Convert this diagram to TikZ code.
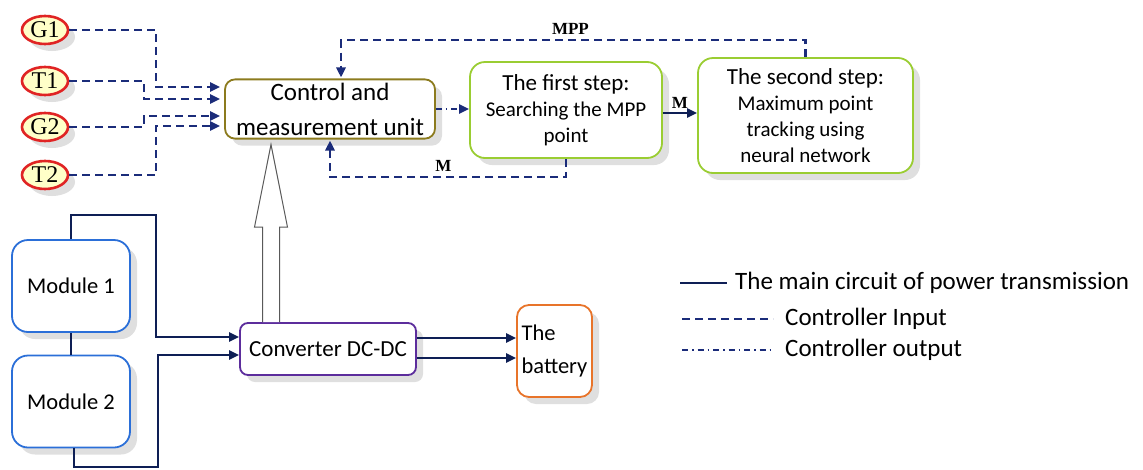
\documentclass[tikz,border=0pt]{standalone}
\usepackage{fontspec}
\setmainfont{Carlito}
\newfontfamily\timesfont{Liberation Serif}
\usetikzlibrary{arrows.meta,shapes.geometric,shadows,calc}
\definecolor{navy}{HTML}{1B2C7A}
\definecolor{wirecol}{HTML}{0E1F55}
\definecolor{ctrlborder}{HTML}{8C7B1E}
\definecolor{stepgreen}{HTML}{9ACD32}
\definecolor{modblue}{HTML}{2B6FD8}
\definecolor{convpurple}{HTML}{5C2D9C}
\definecolor{batorange}{HTML}{E8742A}
\definecolor{senred}{HTML}{E02424}
\definecolor{senfill}{HTML}{FFFFC8}
\begin{document}
\begin{tikzpicture}[x=1pt,y=-1pt,>={Triangle[length=10pt,width=9pt]}]
        \tikzstyle{shade}=[drop shadow={shadow xshift=7pt,shadow yshift=-7pt,fill=gray!35,opacity=.7}]
        \tikzstyle{sensor}=[ellipse,line width=2.6pt,draw=senred,fill=senfill,minimum width=46pt,minimum height=28pt,inner sep=0pt,font=\timesfont\fontsize{24}{26}\selectfont,shade]
        \tikzstyle{ctrlbox}=[rectangle,rounded corners=10pt,line width=1.8pt,draw=ctrlborder,fill=white,minimum width=210pt,minimum height=58pt,align=center,font=\fontsize{25}{35}\selectfont,shade]
        \tikzstyle{stepbox}=[rectangle,rounded corners=15pt,line width=1.8pt,draw=stepgreen,fill=white,align=center,font=\fontsize{21}{26}\selectfont,shade]
        \tikzstyle{modbox}=[rectangle,rounded corners=16pt,line width=1.8pt,draw=modblue,fill=white,minimum width=118pt,minimum height=92pt,font=\fontsize{22.5}{26}\selectfont,shade]
        \tikzstyle{convbox}=[rectangle,rounded corners=8pt,line width=1.8pt,draw=convpurple,fill=white,minimum width=176pt,minimum height=52pt,font=\fontsize{23}{26}\selectfont,shade]
        \tikzstyle{batbox}=[rectangle,rounded corners=12pt,line width=1.8pt,draw=batorange,fill=white,minimum width=75pt,minimum height=92pt,inner sep=2pt,align=left,font=\fontsize{22.5}{33}\selectfont,shade]
        \tikzstyle{ctrlin}=[draw=navy,line width=2.6pt,dash pattern=on 8pt off 5pt]
        \tikzstyle{ctrlout}=[draw=navy,line width=2.6pt,dash pattern=on 6pt off 4pt on 1.5pt off 4pt]
        \tikzstyle{wire}=[draw=wirecol,line width=2.4pt]
        \tikzstyle{lbl}=[font=\timesfont\bfseries\fontsize{17}{19}\selectfont,inner sep=1pt]
        \tikzstyle{legtext}=[anchor=west,inner sep=0pt,font=\fontsize{25}{28}\selectfont]
        \useasboundingbox (0,0) rectangle (1143,469);
        \clip (0,0) rectangle (1143,469);

         \node [sensor] (g1) at (45,30) {G1};
         \node [sensor] (t1) at (45,81) {T1};
         \node [sensor] (g2) at (45,127) {G2};
         \node [sensor] (t2) at (45,175) {T2};

         \node [ctrlbox] (ctrl) at (330,109) {Control and\\measurement unit};
         \node [stepbox,minimum width=192pt,minimum height=96pt] (step1) at (566,110)
              {{\fontsize{23}{26}\selectfont The first step:}\\Searching the MPP\\point};
         \node [stepbox,minimum width=215pt,minimum height=115pt] (step2) at (805.5,115.5)
              {{\fontsize{23}{26}\selectfont The second step:}\\Maximum point\\tracking using\\neural network};

         \node [modbox] (mod1) at (71,286) {Module 1};
         \node [modbox] (mod2) at (71,401.5) {Module 2};
         \node [convbox] (conv) at (328,349) {Converter DC-DC};
         \node [batbox] (bat) at (554.5,351) {The\\battery};

         % sensor inputs
         \draw[ctrlin,->] (g1.east) -| ([xshift=-68pt,yshift=22pt]ctrl.west) -- ([xshift=-4pt,yshift=22pt]ctrl.west);
         \draw[ctrlin,->] (t1.east) -| ([xshift=-80pt,yshift=10pt]ctrl.west) -- ([xshift=-4pt,yshift=10pt]ctrl.west);
         \draw[ctrlin,->] (g2.east) -| ([xshift=-80pt,yshift=-7pt]ctrl.west) -- ([xshift=-4pt,yshift=-7pt]ctrl.west);
         \draw[ctrlin,->] (t2.east) -| ([xshift=-68pt,yshift=-17pt]ctrl.west) -- ([xshift=-4pt,yshift=-17pt]ctrl.west);

         \draw[ctrlout,->] (ctrl.east) -- (ctrl.east -| step1.west);
         \draw[wire,->] ([yshift=-3pt]step1.east) -- ([yshift=-3pt]step1.east -| step2.west)
              node[lbl,midway,above=2pt] {M};
         \draw[ctrlin,->] (step1.south) -- ++(0,18) -| ([yshift=-1pt]ctrl.south)
              node[lbl,pos=0.26,above=3pt] {M};
         \draw[ctrlin,->] (step2.north) -- ++(0,-17) -| ([xshift=11pt,yshift=1pt]ctrl.north)
              node[lbl,pos=0.253,above=3pt] {MPP};

         % power circuit
         \draw[wire,->] (mod1.north) |- (156,215) |- ([yshift=12pt]conv.west);
         \draw[wire] (mod1) -- (mod2);
         \draw[wire,->] ([xshift=3pt]mod2.south) |- (158,467) |- ([yshift=-6pt]conv.west);
         \draw[wire,->] ([yshift=11pt]conv.east) -- ([yshift=11pt]conv.east -| bat.west);
         \draw[wire,->] ([yshift=-9pt]conv.east) -- ([yshift=-9pt]conv.east -| bat.west);

         % measurement feed
         \coordinate (hbase) at ([xshift=-57pt]conv.north);
         \path (hbase |- ctrl.south) ++(0,5) coordinate (htip);
         \draw[draw=gray!70!black,line width=1pt,fill=white]
              ($(hbase)+(-8.5,0)$) -- ($(hbase)+(-8.5,-95)$) -- ($(hbase)+(-16.5,-95)$) -- (htip)
              -- ($(hbase)+(16.5,-95)$) -- ($(hbase)+(8.5,-95)$) -- ($(hbase)+(8.5,0)$);

         % legend
         \coordinate (la1) at (680,283); \coordinate (lb1) at (727,283);
         \coordinate (la2) at (682,319); \coordinate (lb2) at (773,319);
         \coordinate (la3) at (682,350); \coordinate (lb3) at (773,350);
         \draw[wire] (la1) -- (lb1);
         \draw[ctrlin] (la2) -- (lb2);
         \draw[ctrlout] (la3) -- (lb3);
         \node[legtext] (leg1) at (735,283) {The main circuit of power transmission};
         \node[legtext] (leg2) at (785,319) {Controller Input};
         \node[legtext] (leg3) at (785,350) {Controller output};
\end{tikzpicture}
\end{document}
